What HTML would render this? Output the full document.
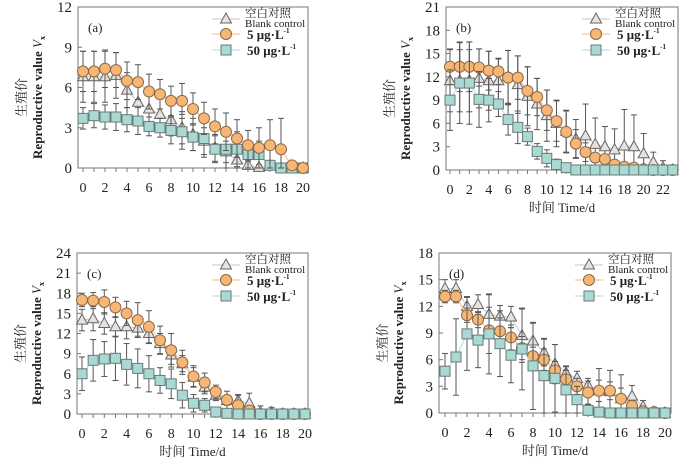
<!DOCTYPE html>
<html><head><meta charset="utf-8"><style>
body{margin:0;background:#fff;}
svg text{font-family:"Liberation Serif","Noto Serif CJK SC",serif;fill:#222;}
</style></head><body>
<svg id="c" width="700" height="457" xmlns="http://www.w3.org/2000/svg"></svg>
<script>
const daysA=[0,1,2,3,4,5,6,7,8,9,10,11,12,13,14,15,16,17,18,19,20];
const daysB=[0,1,2,3,4,5,6,7,8,9,10,11,12,13,14,15,16,17,18,19,20,21,22,23];
const ticksA=[0,2,4,6,8,10,12,14,16,18,20];
const ticksB=[0,2,4,6,8,10,12,14,16,18,20,22];

const aBlank=[6.8,6.8,6.8,6.9,5.8,4.9,4.4,4.0,3.6,3.0,2.5,2.0,1.5,1.2,0.6,0.2,0.05,0.2,0,0,0];
const aBlankErr=[1.9,1.9,1.9,1.7,1.3,1.4,1.4,1.3,1.2,1.2,1.2,1.0,1.0,0.8,0.6,0.3,0.2,0.3,0,0,0];
const a5=[7.2,7.2,7.4,7.3,6.5,6.4,5.7,5.5,5.0,5.0,4.4,3.7,3.1,2.7,2.2,1.7,1.5,1.7,1.4,0.2,0];
const a5Err=[1.5,1.5,1.4,1.3,1.4,1.3,1.3,1.1,1.1,1.3,1.2,1.2,1.3,1.4,1.4,1.1,1.5,1.9,2.3,0.3,0];
const a50=[3.7,3.9,3.8,3.8,3.6,3.5,3.1,3.0,2.8,2.7,2.3,2.2,1.4,1.4,1.4,1.0,1.0,0.2,0,0,0];
const a50Err=[0.8,0.9,0.9,1.0,0.9,1.0,0.7,0.7,1.0,1.3,1.0,1.4,1.0,1.4,1.3,1.0,1.0,0.2,0,0,0];

const bBlank=[11.5,11.5,11.5,11.8,11.5,11.5,12,11,9.5,8.5,7,6,5,4,4.4,3.3,3,2.6,3.1,3,2.1,1,0.3,0];
const bBlankErr=[4.0,4.0,4.0,3.8,3.8,2.8,3.4,3.7,3.8,3.3,3.3,3.0,2.7,2.5,4.1,3.4,2.6,2.7,4.7,4.1,2.6,1.3,0.9,0];
const b5=[13.3,13.3,13.3,13.2,12.8,12.7,11.9,11.9,10.2,9.4,7.7,6.3,4.9,3.4,2.3,1.6,1.4,0.7,0.4,0.3,0.1,0,0,0];
const b5Err=[2.3,3.2,3.2,2.4,2.5,1.7,3.5,2.8,3.1,2.4,2.6,2.6,2.7,1.8,1.2,0.6,0.6,0.4,0.3,0.2,0.1,0,0,0];
const b50=[9,11.2,11.2,9.1,9,8.5,6.5,5.5,4.3,2.4,1.5,0.7,0.3,0,0,0,0,0,0,0,0,0,0,0];
const b50Err=[3.9,5.2,5.3,3.6,2.8,1.6,2.0,2.1,1.1,1.0,1.1,0.7,0.3,0,0,0,0,0,0,0,0,0,0,0];

const cBlank=[14,14.2,13.5,13,13,12.8,12,10.5,8.8,7.5,5.5,4,2.8,2,2,1.6,0.3,0.2,0,0,0];
const cBlankErr=[1.6,1.8,1.6,1.5,1.8,1.2,1.5,1.5,1.4,1.2,1.4,1.0,0.8,0.7,0.9,1.5,0.9,0.8,0,0,0];
const c5=[17,16.9,16.7,15.9,15,14,13,11,9.5,7.7,5.6,4.7,3.3,2.1,1.3,0.5,0,0,0,0,0];
const c5Err=[1.0,1.2,1.8,1.5,1.8,2.6,2.4,2.1,2.5,1.8,1.6,1.4,1.0,1.3,1.5,0.5,0,0,0,0,0];
const c50=[6,8,8.2,8.3,7.4,6.8,6,5,4.5,2.8,1.6,1.3,0.3,0.1,0,0,0,0,0,0,0];
const c50Err=[2.5,3.1,2.6,3.3,3.1,2.9,2.7,1.9,2.2,1.9,1.3,1.0,0.3,0.1,0,0,0,0,0,0,0];

const dBlank=[14,14,12,12.2,11.1,10.9,10.8,8.7,8.1,6.8,5.5,4.5,3.9,3.1,2.5,2.4,1.6,1.9,0.7,0.1,0];
const dBlankErr=[1.0,1.0,1.1,1.1,2.2,1.2,1.2,3.0,2.0,1.5,2.2,0.8,0.8,0.8,2.5,2.4,2.7,1.2,0.7,0.1,0];
const d5=[13.1,13.1,11,10.5,9.3,9.2,8.5,7.3,6.4,6,4.8,3.8,3,2.3,2.5,2.5,1.6,0.8,0.2,0.1,0];
const d5Err=[0.7,0.7,0.8,0.9,2.6,1.5,1.4,1.3,1.0,1.2,1.0,1.0,0.9,1.3,1.2,1.0,1.2,0.6,0.3,0.1,0];
const d50=[4.7,6.3,8.9,8.2,8.9,7.8,6.5,7.2,5.3,4.2,3.9,2.6,1.5,0.3,0.1,0,0,0,0,0,0];
const d50Err=[2.0,4.3,4.1,3.1,4.5,3.7,3.1,4.6,4.9,4.2,3.8,2.6,1.5,0.6,0.1,0,0,0,0,0,0];

const NS="http://www.w3.org/2000/svg";
const svg=document.getElementById('c');
function mk(tag,attrs,parent,txt){const e=document.createElementNS(NS,tag);for(const k in attrs)e.setAttribute(k,attrs[k]);if(txt!==undefined)e.textContent=txt;(parent||svg).appendChild(e);return e;}

const styles={
 blank:{fill:"#e8e2de",stroke:"#666",line:"#d8cfcb"},
 c5:{fill:"#f7b673",stroke:"#8a6a48",line:"#f5c898"},
 c50:{fill:"#a9d9d3",stroke:"#6a7a78",line:"#bfe2de"}
};
function marker(g,kind,x,y){
 const s=styles[kind];
 if(kind==='blank')return mk('polygon',{points:`${x},${y-6} ${x+5.5},${y+4} ${x-5.5},${y+4}`,fill:s.fill,stroke:s.stroke,'stroke-width':1},g);
 if(kind==='c5')return mk('circle',{cx:x,cy:y,r:5.5,fill:s.fill,stroke:s.stroke,'stroke-width':1},g);
 return mk('rect',{x:x-5,y:y-5,width:10,height:10,fill:s.fill,stroke:s.stroke,'stroke-width':1},g);
}
function panel(cfg){
 const g=mk('g',{});
 
 
 const X=v=>cfg.x0+(v-0)*(cfg.x1-cfg.x0)/cfg.xmax;
 const Y=v=>cfg.y0-v*(cfg.y0-cfg.yt)/cfg.ymax;
 const frame=mk('rect',{x:cfg.L,y:cfg.yt,width:cfg.R-cfg.L,height:cfg.y0-cfg.yt,fill:'none',stroke:'#777','stroke-width':1},g);
 
 
 for(let v=0;v<=cfg.ymax;v+=cfg.ystep){
  mk('line',{x1:cfg.L,x2:cfg.L+4,y1:Y(v),y2:Y(v),stroke:'#777'},g);
  const t=mk('text',{x:cfg.L-6,y:Y(v)+5,'text-anchor':'end','font-size':15},g,String(v));
  
  
 }
 for(let d=0;d<=cfg.xmax;d++) mk('line',{x1:X(d),x2:X(d),y1:cfg.y0,y2:cfg.y0+4,stroke:'#777'},g);
 cfg.ticks.forEach(d=>{
  const t=mk('text',{x:X(d),y:cfg.y0+24,'text-anchor':'middle','font-size':14},g,String(d));
  
  
 });
 if(cfg.xtitle){
  const xt=mk('text',{x:(cfg.L+cfg.R)/2,y:cfg.y0+42,'text-anchor':'middle','font-size':13},g,'时间 Time/d');
  
  
 }
 const cy=(cfg.y0+cfg.yt)/2+10;
 const yt1=mk('text',{x:0,y:0,'text-anchor':'middle','font-size':13,transform:`translate(${cfg.L-52},${cy}) rotate(-90)`},g,'生殖价');
 
 
 const yt2=mk('text',{x:0,y:0,'text-anchor':'middle','font-size':13,'font-weight':'bold',transform:`translate(${cfg.L-36},${cy}) rotate(-90)`},g);
 
 
 yt2.innerHTML='Reproductive value <tspan font-style="italic" font-weight="normal">V</tspan><tspan font-size="8" dy="3">x</tspan>';
 const lab=mk('text',{x:cfg.L+10,y:cfg.yt+25,'font-size':13},g,'('+cfg.id+')');
 
 
 cfg.series.forEach(s=>{
  const sg=mk('g',{},g);
  
  
  const pts=s.vals.map((v,i)=>X(cfg.days[i])+','+Y(v)).join(' ');
  mk('polyline',{points:pts,fill:'none',stroke:styles[s.kind].line,'stroke-width':1.2},sg);
  s.vals.forEach((v,i)=>{
   const e=s.err[i];if(!e)return;const x=X(cfg.days[i]);
   const lo=Math.max(0,v-e);
   mk('line',{x1:x,x2:x,y1:Y(v+e),y2:Y(lo),stroke:'#555','stroke-width':1},sg);
   mk('line',{x1:x-3,x2:x+3,y1:Y(v+e),y2:Y(v+e),stroke:'#555'},sg);
   mk('line',{x1:x-3,x2:x+3,y1:Y(lo),y2:Y(lo),stroke:'#555'},sg);
  });
  s.vals.forEach((v,i)=>{
   const m=marker(sg,s.kind,X(cfg.days[i]),Y(v));
   
   
  });
 });
 const lg=mk('g',{},g);
 
 
 const lx=cfg.R-96, ly=cfg.yt;
 const rows=[['blank',12],['c5',27],['c50',43]];
 rows.forEach(([k,dy])=>{
  mk('line',{x1:lx,x2:lx+28,y1:ly+dy,y2:ly+dy,stroke:styles[k].line,'stroke-width':1.2},lg);
  marker(lg,k,lx+14,ly+dy);
 });
 mk('text',{x:lx+33,y:ly+10,'font-size':11.5},lg,'空白对照');
 mk('text',{x:lx+33,y:ly+20,'font-size':11},lg,'Blank control');
 mk('text',{x:lx+35,y:ly+32,'font-size':13,'font-weight':'bold'},lg).innerHTML='5 μg·L<tspan font-size="7" dy="-6">-1</tspan>';
 mk('text',{x:lx+35,y:ly+48,'font-size':13,'font-weight':'bold'},lg).innerHTML='50 μg·L<tspan font-size="7" dy="-6">-1</tspan>';
}
panel({id:'a',xtitle:false,L:78,R:308,x0:83,x1:303,xmax:20,yt:7,y0:168,ymax:12,ystep:3,days:daysA,ticks:ticksA,
 series:[{kind:'blank',vals:aBlank,err:aBlankErr},{kind:'c50',vals:a50,err:a50Err},{kind:'c5',vals:a5,err:a5Err}]});
panel({id:'b',xtitle:true,L:446,R:678,x0:450,x1:663,xmax:22,yt:7,y0:170,ymax:21,ystep:3,days:daysB,ticks:ticksB,
 series:[{kind:'blank',vals:bBlank,err:bBlankErr},{kind:'c5',vals:b5,err:b5Err},{kind:'c50',vals:b50,err:b50Err}]});
panel({id:'c',xtitle:true,L:77,R:308,x0:82,x1:305,xmax:20,yt:253,y0:414,ymax:24,ystep:3,days:daysA,ticks:ticksA,
 series:[{kind:'blank',vals:cBlank,err:cBlankErr},{kind:'c5',vals:c5,err:c5Err},{kind:'c50',vals:c50,err:c50Err}]});
panel({id:'d',xtitle:true,L:439,R:671,x0:445,x1:665,xmax:20,yt:253,y0:413,ymax:18,ystep:3,days:daysA,ticks:ticksA,
 series:[{kind:'blank',vals:dBlank,err:dBlankErr},{kind:'c5',vals:d5,err:d5Err},{kind:'c50',vals:d50,err:d50Err}]});
</script>
</body></html>
